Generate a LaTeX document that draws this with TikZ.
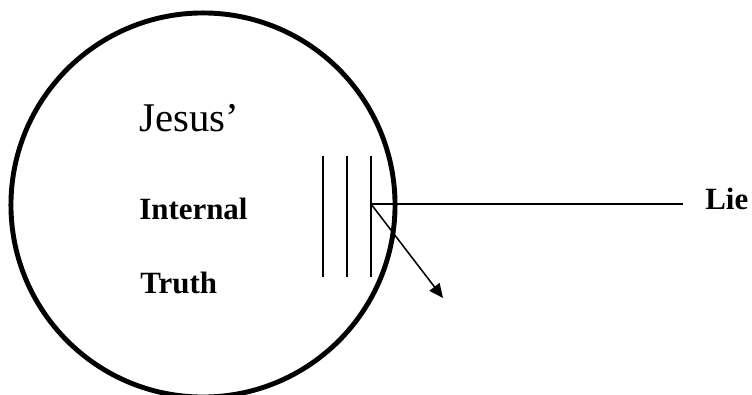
\documentclass[tikz,border=0pt]{standalone}
\usepackage{fontspec}
\setmainfont{Liberation Serif}
\usetikzlibrary{arrows.meta}

\begin{document}
\begin{tikzpicture}[x=0.025cm,y=-0.025cm,>={Triangle[length=10pt,width=9pt]}]
\tikzstyle{wall}=[line width=1.1pt]
\tikzstyle{word}=[inner sep=0pt,anchor=base west,font=\bfseries\fontsize{22}{26}\selectfont]
\useasboundingbox (0,0) rectangle (752,395);
\node[draw,circle,line width=3.5pt,inner sep=0pt,minimum size=9.6cm] (soul) at (203,205) {};
\node[inner sep=0pt,anchor=base west,font=\fontsize{29}{34}\selectfont] (jesus) at (139,131) {Jesus’};
\node[word] (internal) at (139,219) {Internal}; \node[word] (truth) at (140,293) {Truth};
\node[word,inner xsep=0.55cm] (lie) at (683,209) {Lie};
\foreach \x in {323,347,371} \draw[wall] (\x,156) -- (\x,277);
\coordinate (gate) at (371,204); \coordinate (drop) at (443,298);
\draw[wall] (gate) -- (gate -| lie.west);
\draw[wall,->] (gate) -- (drop);
\end{tikzpicture}
\end{document}
